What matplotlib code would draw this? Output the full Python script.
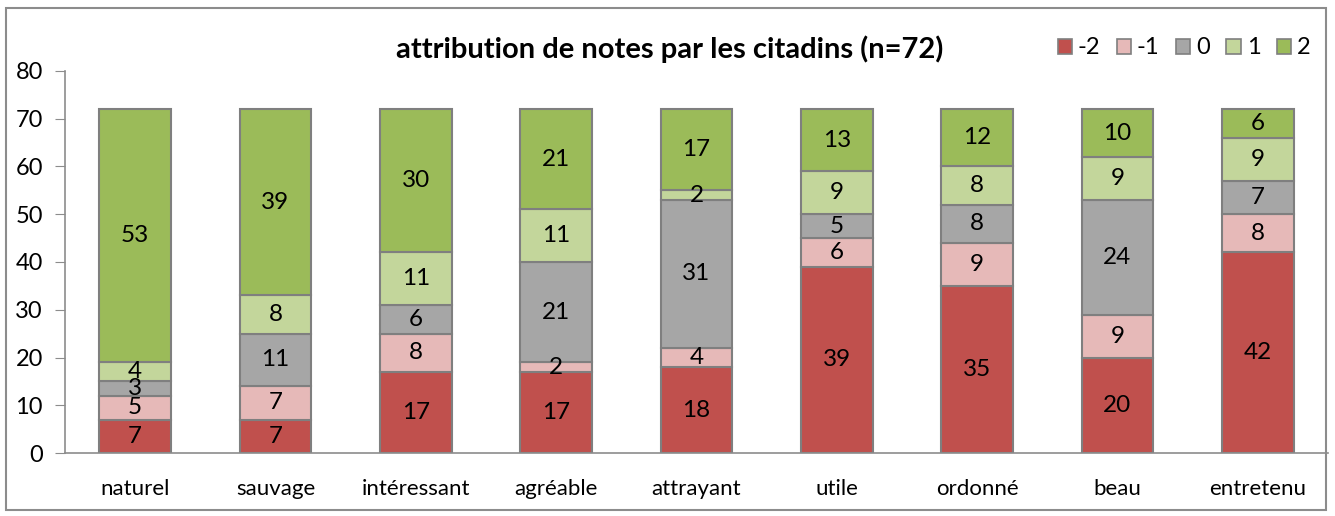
import numpy as np
import matplotlib; matplotlib.use('Agg')
import matplotlib.pyplot as plt
from matplotlib.patches import Rectangle, Patch

plt.rcParams['font.family'] = ['Lato', 'DejaVu Sans']

# Categories and number of votes per score (-2 .. 2)
categories = ['naturel', 'sauvage', 'intéressant', 'agréable', 'attrayant',
              'utile', 'ordonné', 'beau', 'entretenu']
scores = ['-2', '-1', '0', '1', '2']
score_m2 = [7, 7, 17, 17, 18, 39, 35, 20, 42]
score_m1 = [5, 7, 8, 2, 4, 6, 9, 9, 8]
score_0 = [3, 11, 6, 21, 31, 5, 8, 24, 7]
score_p1 = [4, 8, 11, 11, 2, 9, 8, 9, 9]
score_p2 = [53, 39, 30, 21, 17, 13, 12, 10, 6]
colors = ['#C0504D', '#E6B9B8', '#A6A6A6', '#C3D69B', '#9BBB59']

series = [score_m2, score_m1, score_0, score_p1, score_p2]

fig = plt.figure(figsize=(13.35, 5.16), dpi=100)
ax = fig.add_axes([0.0487, 0.122, 0.946, 0.7405])

x = np.arange(len(categories))
bottom = np.zeros(len(categories))
for vals, col in zip(series, colors):
    vals = np.array(vals)
    ax.bar(x, vals, bottom=bottom, width=0.51, color=col,
           edgecolor='#7F7F7F', linewidth=1.5, zorder=2)
    for xi, b, v in zip(x, bottom, vals):
        ax.text(xi, b + v / 2, str(v), ha='center', va='center',
                fontsize=17.5, color='black', zorder=3)
    bottom += vals

ax.set_xlim(-0.5, len(categories) - 0.5)
ax.set_ylim(0, 80)
ax.set_yticks(range(0, 81, 10))
ax.set_xticks(x)
ax.set_xticklabels(categories, fontsize=16)
ax.tick_params(axis='y', labelsize=17, length=7, color='#8C8C8C', pad=9)
ax.tick_params(axis='x', length=0, pad=19)
for s in ['top', 'right']:
    ax.spines[s].set_visible(False)
for s in ['left', 'bottom']:
    ax.spines[s].set_color('#8C8C8C')
    ax.spines[s].set_linewidth(1.2)

fig.text(0.502, 0.905, 'attribution de notes par les citadins (n=72)',
         ha='center', va='center', fontsize=21, fontweight='bold')

handles = [Patch(facecolor=c, edgecolor='#7F7F7F', linewidth=1.2) for c in colors]
fig.legend(handles, scores, loc='center', bbox_to_anchor=(0.887, 0.907),
           ncol=5, frameon=False, fontsize=17, handlelength=0.6,
           handleheight=0.6, handletextpad=0.25, columnspacing=0.7)

# outer chart frame
fig.patches.append(Rectangle((6 / 1335, 6 / 516), 1320 / 1335, 502 / 516,
                             transform=fig.transFigure, fill=False,
                             edgecolor='#8C8C8C', linewidth=1.5))

fig.savefig('out.png', dpi=100)
